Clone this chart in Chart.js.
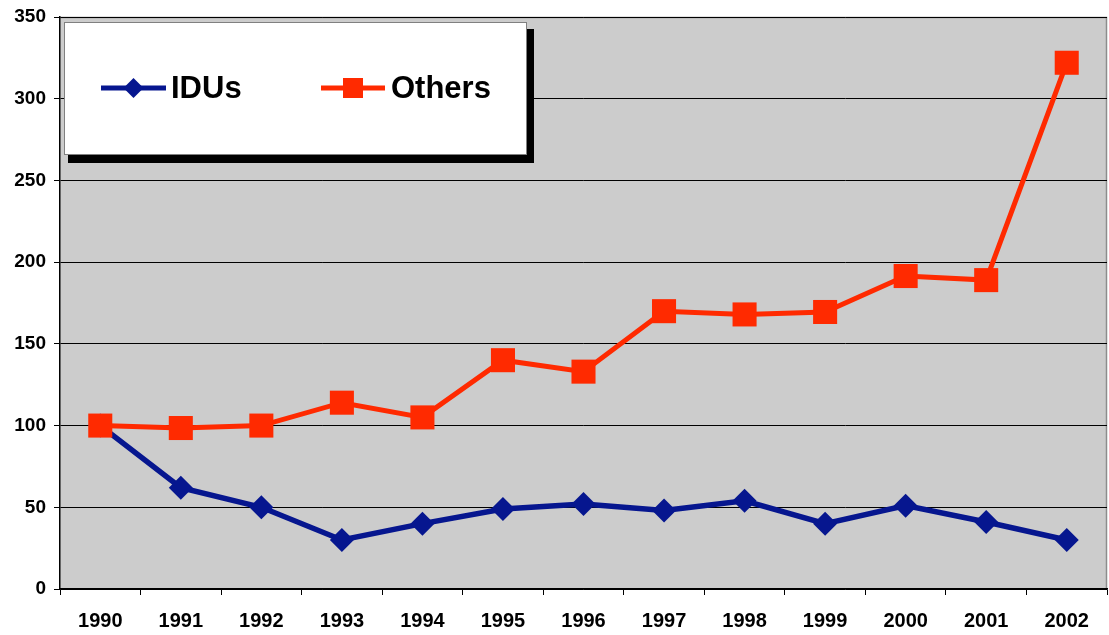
<!DOCTYPE html>
<html>
<head>
<meta charset="utf-8">
<script src="https://cdn.jsdelivr.net/npm/chart.js@4"></script>
<style>
html,body{margin:0;padding:0;background:#fff;}
#wrap{width:1109px;height:635px;position:relative;}
</style>
</head>
<body>
<div id="wrap"><canvas id="c" width="1109" height="635"></canvas></div>
<script>
const years = ['1990','1991','1992','1993','1994','1995','1996','1997','1998','1999','2000','2001','2002'];
const idus = [100, 62, 50, 30, 40, 49, 52, 48, 54, 40, 51, 41, 30];
const others = [100, 98.5, 100, 114, 105, 140, 133, 170, 168, 169.5, 191.5, 189, 322];
const yTicks = [0, 50, 100, 150, 200, 250, 300, 350];

const NAVY = '#06168f';
const RED = '#ff2a00';
const FONT = "'Liberation Sans', Arial, sans-serif";

const bgPlugin = {
  id: 'bg',
  beforeDraw(chart) {
    const {ctx, chartArea: a} = chart;
    ctx.save();
    ctx.fillStyle = '#cccccc';
    ctx.fillRect(a.left, a.top, a.right - a.left, a.bottom - a.top);
    ctx.strokeStyle = '#8c8c8c';
    ctx.lineWidth = 1.5;
    ctx.beginPath();
    ctx.moveTo(a.left, a.top + 0.5);
    ctx.lineTo(a.right - 0.5, a.top + 0.5);
    ctx.lineTo(a.right - 0.5, a.bottom);
    ctx.stroke();
    ctx.restore();
  }
};

const legendPlugin = {
  id: 'boxLegend',
  afterDraw(chart) {
    const ctx = chart.ctx;
    const a = chart.chartArea;
    const bx = a.left + 4, by = a.top + 5, bw = 463, bh = 133;
    ctx.save();
    ctx.fillStyle = '#000';
    ctx.fillRect(bx + 4, by + 7, bw + 3, bh + 1);
    ctx.fillStyle = '#fff';
    ctx.fillRect(bx, by, bw, bh);
    ctx.strokeStyle = '#808080';
    ctx.lineWidth = 1;
    ctx.strokeRect(bx + 0.5, by + 0.5, bw - 1, bh - 1);
    const ly = 88;
    const items = [
      {ds: chart.data.datasets[0], x0: 101, x1: 166, tx: 171},
      {ds: chart.data.datasets[1], x0: 321, x1: 385, tx: 391}
    ];
    items.forEach(it => {
      const ds = it.ds;
      ctx.strokeStyle = ds.borderColor;
      ctx.lineWidth = 5;
      ctx.beginPath();
      ctx.moveTo(it.x0, ly);
      ctx.lineTo(it.x1, ly);
      ctx.stroke();
      const cx = (it.x0 + it.x1) / 2;
      ctx.fillStyle = ds.backgroundColor;
      if (ds.pointStyle === 'rectRot') {
        ctx.beginPath();
        ctx.moveTo(cx, ly - 10);
        ctx.lineTo(cx + 10, ly);
        ctx.lineTo(cx, ly + 10);
        ctx.lineTo(cx - 10, ly);
        ctx.closePath();
        ctx.fill();
      } else {
        ctx.fillRect(cx - 10, ly - 10, 20, 20);
      }
      ctx.fillStyle = '#000';
      ctx.font = 'bold 31px ' + FONT;
      ctx.textBaseline = 'middle';
      ctx.textAlign = 'left';
      ctx.fillText(ds.label, it.tx, ly + 1);
    });
    ctx.restore();
  }
};

new Chart(document.getElementById('c'), {
  type: 'line',
  data: {
    labels: years,
    datasets: [
      {
        label: 'IDUs',
        data: idus,
        borderColor: NAVY,
        backgroundColor: NAVY,
        borderWidth: 5.5,
        pointStyle: 'rectRot',
        pointRadius: 12,
        pointBorderWidth: 0,
        pointHoverRadius: 12,
        tension: 0,
        order: 1
      },
      {
        label: 'Others',
        data: others,
        borderColor: RED,
        backgroundColor: RED,
        borderWidth: 5,
        pointStyle: 'rect',
        pointRadius: 17,
        pointBorderWidth: 0,
        pointHoverRadius: 17,
        tension: 0,
        order: 0
      }
    ]
  },
  options: {
    responsive: false,
    animation: false,
    events: [],
    layout: {autoPadding: false, padding: {top: 17, right: 2, left: 0, bottom: 0}},
    plugins: {legend: {display: false}, tooltip: {enabled: false}},
    scales: {
      x: {
        offset: true,
        grid: {
          offset: true,
          drawOnChartArea: false,
          drawTicks: true,
          tickLength: 6,
          tickColor: '#000',
          lineWidth: 1
        },
        border: {display: true, color: '#000', width: 1.5},
        ticks: {
          color: '#000',
          font: {family: FONT, size: 20, weight: 'bold'},
          padding: 14,
          maxRotation: 0,
          autoSkip: false
        },
        afterFit(s) { s.height = 46; s.paddingLeft = 0; s.paddingRight = 0; }
      },
      y: {
        min: 0,
        max: 350,
        afterBuildTicks(s) { s.ticks = yTicks.map(v => ({value: v})); },
        grid: {
          color: '#000',
          lineWidth: 1,
          drawTicks: true,
          tickLength: 6,
          tickColor: '#000'
        },
        border: {display: true, color: '#000', width: 1.5},
        ticks: {
          color: '#000',
          font: {family: FONT, size: 19, weight: 'bold'},
          padding: 8
        },
        afterFit(s) { s.width = 60; s.paddingTop = 0; s.paddingBottom = 0; }
      }
    }
  },
  plugins: [bgPlugin, legendPlugin]
});
</script>
</body>
</html>
